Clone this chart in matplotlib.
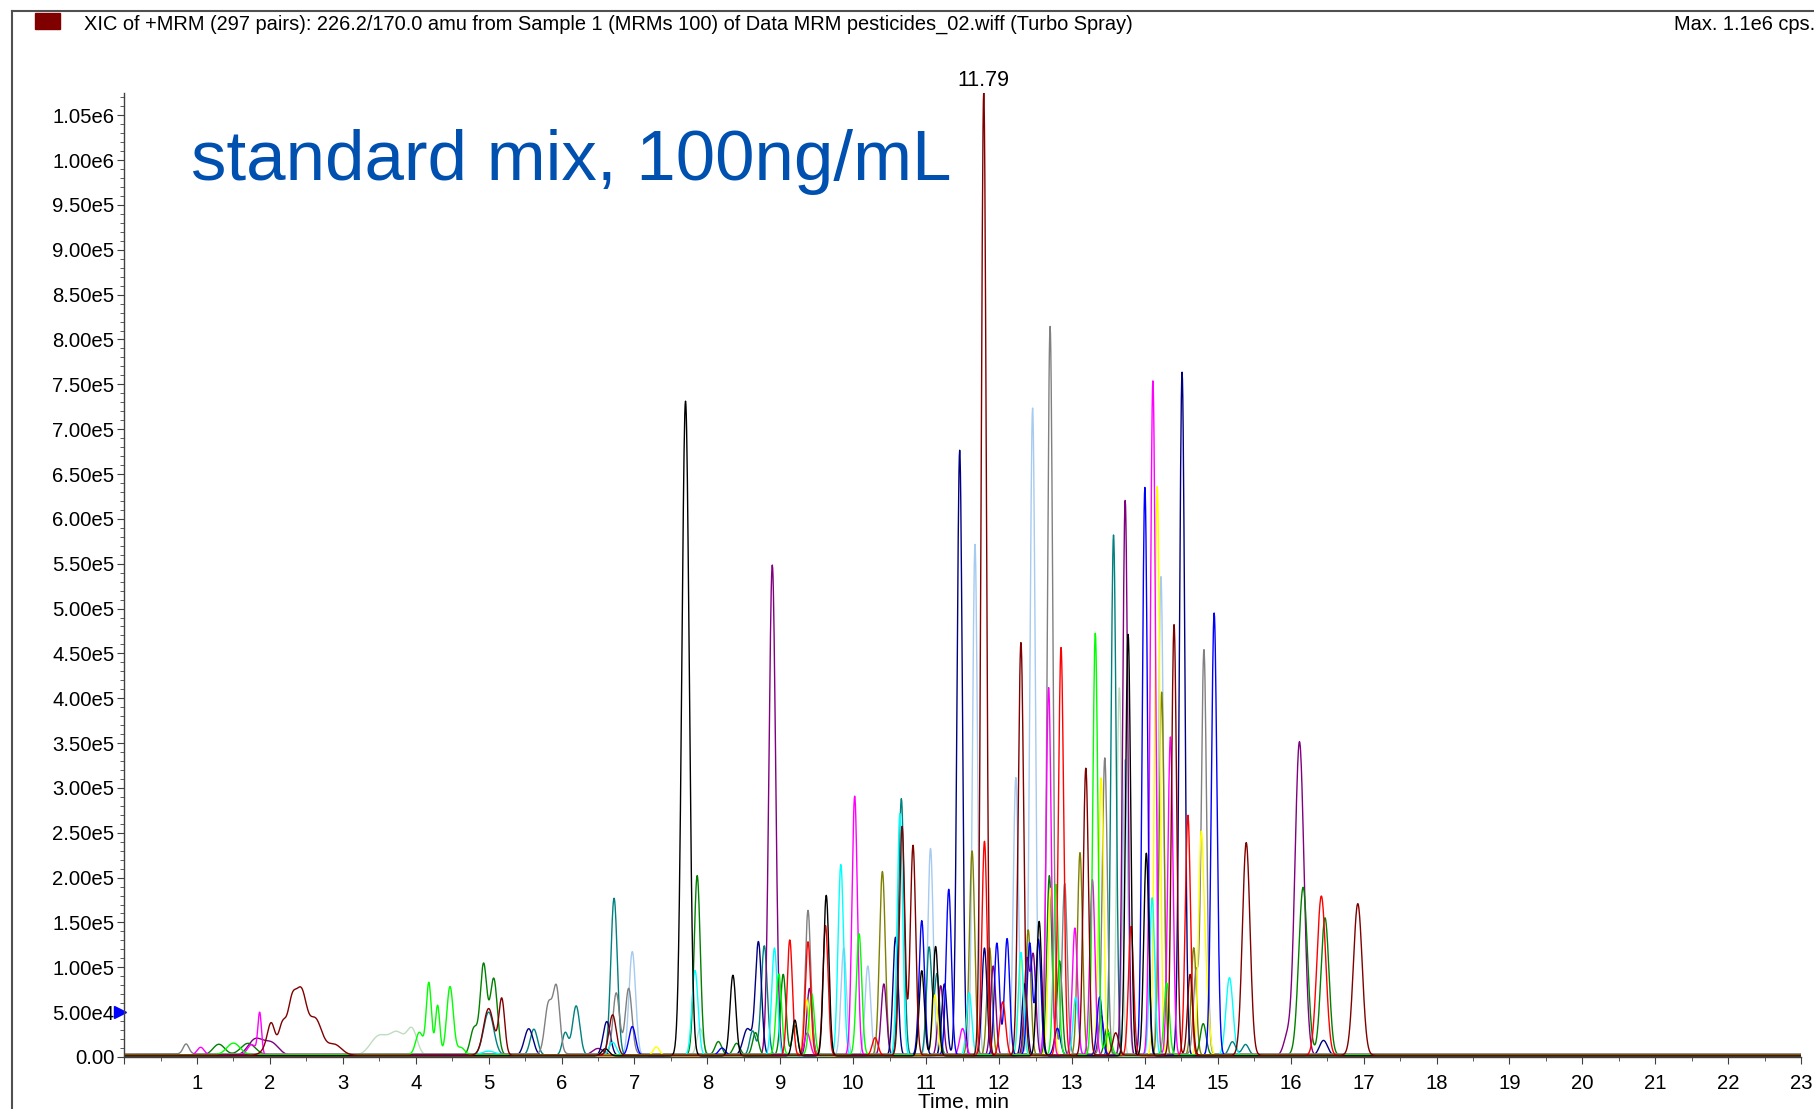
import matplotlib
matplotlib.use('Agg')
import numpy as np
import matplotlib.pyplot as plt
from matplotlib.ticker import MultipleLocator, FuncFormatter
from matplotlib.patches import Rectangle
from matplotlib.lines import Line2D

# peaks per colour: (retention time min, height cps, sigma min)
maroon = [(1.98, 9e3, 0.08), (2.02, 2.8e4, 0.05), (2.17, 3.2e4, 0.05), (2.30, 5.5e4, 0.06),
          (2.43, 6.6e4, 0.07), (2.62, 4.0e4, 0.09), (2.88, 1.2e4, 0.10), (5.00, 5.2e4, 0.07),
          (5.18, 6.2e4, 0.04), (6.70, 4.5e4, 0.05), (10.67, 2.55e5, 0.037), (10.82, 2.34e5, 0.037),
          (11.79, 1.075e6, 0.035), (12.30, 4.6e5, 0.037), (13.19, 3.2e5, 0.036), (13.60, 2.5e4, 0.04),
          (14.40, 4.8e5, 0.035), (14.62, 9e4, 0.035), (15.39, 2.37e5, 0.052), (16.92, 1.69e5, 0.06)]
black = [(6.60, 8e3, 0.05), (7.70, 7.3e5, 0.05), (8.35, 9e4, 0.04), (9.20, 4e4, 0.035),
         (9.63, 1.79e5, 0.037), (10.94, 9.5e4, 0.036), (11.13, 1.22e5, 0.036), (12.55, 1.5e5, 0.035),
         (13.77, 4.7e5, 0.035), (14.02, 2.26e5, 0.035)]
red = [(9.13, 1.29e5, 0.036), (9.38, 1.27e5, 0.036), (9.62, 1.45e5, 0.036), (10.30, 2e4, 0.04),
       (11.80, 2.39e5, 0.035), (12.05, 6e4, 0.04), (12.85, 4.55e5, 0.036), (13.81, 1.44e5, 0.035),
       (14.59, 2.68e5, 0.036), (16.42, 1.78e5, 0.06)]
lime = [(1.50, 1.3e4, 0.09), (4.05, 2.5e4, 0.05), (4.18, 8.0e4, 0.035), (4.30, 5.5e4, 0.03),
        (4.47, 7.6e4, 0.045), (4.62, 8e3, 0.05), (8.98, 9e4, 0.037), (9.43, 6.8e4, 0.037),
        (10.08, 1.35e5, 0.037), (12.78, 1.9e5, 0.035), (13.32, 4.7e5, 0.034), (13.50, 2.5e4, 0.04),
        (14.30, 8e4, 0.035)]
blue = [(6.97, 3.2e4, 0.045), (8.20, 8e3, 0.045), (10.94, 1.5e5, 0.037), (11.31, 1.85e5, 0.036),
        (11.97, 1.25e5, 0.035), (12.11, 1.3e5, 0.035), (12.42, 1.25e5, 0.035), (12.54, 1.29e5, 0.035),
        (12.80, 3e4, 0.04), (13.38, 6.5e4, 0.035), (14.00, 6.33e5, 0.035), (14.95, 4.93e5, 0.038)]
magenta = [(1.05, 9e3, 0.05), (1.75, 1.2e4, 0.06), (1.86, 4.6e4, 0.025), (9.37, 2.5e4, 0.04),
           (10.02, 2.89e5, 0.037), (11.50, 3e4, 0.04), (12.68, 4.1e5, 0.035), (13.04, 1.42e5, 0.035),
           (13.28, 1.96e5, 0.035), (14.11, 7.52e5, 0.036), (14.35, 3.55e5, 0.035)]
cyan = [(5.00, 5e3, 0.10), (6.70, 1.5e4, 0.05), (7.83, 9.5e4, 0.042), (8.92, 1.2e5, 0.038),
        (9.83, 2.13e5, 0.038), (10.64, 2.7e5, 0.037), (11.59, 7e4, 0.036), (12.30, 1.15e5, 0.035),
        (13.05, 6.5e4, 0.035), (14.10, 1.76e5, 0.035), (15.16, 8.7e4, 0.048)]
yellow = [(7.30, 1e4, 0.045), (9.36, 6.3e4, 0.036), (11.12, 6.8e4, 0.036), (12.30, 1.1e5, 0.035),
          (12.71, 1.87e5, 0.035), (13.40, 3.1e5, 0.035), (14.17, 6.35e5, 0.035), (14.77, 2.33e5, 0.036),
          (14.84, 7.5e4, 0.04)]
gray = [(0.85, 1.1e4, 0.04), (5.82, 5.5e4, 0.05), (5.93, 7.2e4, 0.045), (6.75, 6.8e4, 0.045),
        (6.92, 7.3e4, 0.045), (9.38, 1.6e5, 0.037), (12.70, 8.11e5, 0.037), (12.90, 1.9e5, 0.035),
        (13.45, 3.3e5, 0.035), (14.70, 9e4, 0.035), (14.81, 4.5e5, 0.036)]
navy = [(5.55, 3e4, 0.06), (6.62, 3.8e4, 0.05), (8.55, 3e4, 0.06), (8.70, 1.26e5, 0.042),
        (10.58, 1.32e5, 0.036), (11.25, 8e4, 0.036), (11.46, 6.75e5, 0.036), (11.80, 1.2e5, 0.035),
        (12.35, 8e4, 0.035), (14.51, 7.62e5, 0.036), (16.45, 1.7e4, 0.055)]
green = [(1.30, 1.2e4, 0.08), (1.70, 1.3e4, 0.10), (4.80, 3e4, 0.05), (4.93, 1.0e5, 0.045),
         (5.07, 8.5e4, 0.05), (7.86, 2.0e5, 0.042), (8.15, 1.5e4, 0.045), (8.40, 1.3e4, 0.045),
         (8.66, 2.5e4, 0.04), (9.04, 9e4, 0.037), (9.20, 3.3e4, 0.036), (12.69, 2.0e5, 0.035),
         (12.83, 1.05e5, 0.035), (13.48, 3e4, 0.035), (14.80, 3.5e4, 0.04), (16.17, 1.87e5, 0.06),
         (16.47, 1.53e5, 0.055)]
purple = [(1.80, 1.8e4, 0.10), (2.02, 1.4e4, 0.10), (6.50, 8e3, 0.08), (8.89, 5.47e5, 0.045),
          (9.40, 7.5e4, 0.037), (10.42, 8e4, 0.037), (11.20, 7.8e4, 0.036), (11.92, 1e5, 0.035),
          (12.38, 1.05e5, 0.035), (12.47, 1.1e5, 0.035), (13.40, 4.5e4, 0.035), (13.73, 6.19e5, 0.035),
          (15.95, 2e4, 0.05), (16.12, 3.5e5, 0.062)]
teal = [(5.00, 4.8e4, 0.07), (5.62, 2.9e4, 0.05), (6.05, 2.5e4, 0.04), (6.20, 5.5e4, 0.05),
        (6.72, 1.75e5, 0.045), (8.62, 2.7e4, 0.04), (8.78, 1.22e5, 0.042), (10.66, 2.86e5, 0.037),
        (11.04, 1.2e5, 0.036), (11.15, 9e4, 0.036), (13.57, 5.8e5, 0.035), (15.20, 1.5e4, 0.045),
        (15.38, 1.2e4, 0.045)]
olive = [(10.40, 2.05e5, 0.04), (11.63, 2.28e5, 0.036), (11.87, 1.2e5, 0.035), (12.40, 1.4e5, 0.035),
         (13.11, 2.26e5, 0.035), (14.23, 4.05e5, 0.035), (14.67, 1.2e5, 0.035)]
ltblue = [(6.97, 1.16e5, 0.045), (9.87, 1.2e5, 0.038), (10.20, 1e5, 0.038), (11.06, 2.31e5, 0.037),
          (11.67, 5.7e5, 0.034), (12.23, 3.1e5, 0.035), (12.46, 7.22e5, 0.036), (13.73, 3.3e5, 0.035),
          (14.22, 5.34e5, 0.035)]
ltgreen = [(3.50, 2.2e4, 0.12), (3.75, 2.4e4, 0.10), (3.95, 2.8e4, 0.07), (7.90, 3e4, 0.045),
           (13.65, 4.1e5, 0.035)]

# baseline level of each trace (cps)
baselines = {'ltgreen': 1500, 'ltblue': 1500, 'olive': 1800, 'teal': 2000, 'purple': 1500,
             'green': 2200, 'navy': 1500, 'gray': 3500, 'yellow': 1200, 'cyan': 1500,
             'magenta': 1800, 'blue': 2000, 'lime': 2500, 'red': 1500, 'black': 1200,
             'maroon': 2000}

traces = [('ltgreen', ltgreen, '#C0DCC0'), ('ltblue', ltblue, '#A6CAF0'), ('olive', olive, '#808000'),
          ('teal', teal, '#008080'), ('purple', purple, '#800080'), ('green', green, '#008000'),
          ('navy', navy, '#000080'), ('gray', gray, '#808080'), ('yellow', yellow, '#FFFF00'),
          ('cyan', cyan, '#00FFFF'), ('magenta', magenta, '#FF00FF'), ('blue', blue, '#0000FF'),
          ('lime', lime, '#00FF00'), ('red', red, '#FF0000'), ('black', black, '#000000'),
          ('maroon', maroon, '#800000')]

plt.rcParams['font.family'] = ['Liberation Sans', 'DejaVu Sans']

fig = plt.figure(figsize=(18.14, 11.09), dpi=100)
ax = fig.add_axes([0.0684, 0.0469, 0.9245, 0.8694])

t = np.arange(0, 23.0001, 0.005)
for name, peaks, col in traces:
    y = np.full_like(t, baselines[name], dtype=float)
    for rt, h, s in peaks:
        y += h * np.exp(-0.5 * ((t - rt) / s) ** 2)
    ax.plot(t, y, color=col, lw=1.0)

ax.set_xlim(0, 23)
ax.set_ylim(0, 1.075e6)
for sp in ['top', 'right']:
    ax.spines[sp].set_visible(False)
for sp in ['left', 'bottom']:
    ax.spines[sp].set_color('#404040')
    ax.spines[sp].set_linewidth(1.0)

ax.xaxis.set_major_locator(MultipleLocator(1))
ax.xaxis.set_minor_locator(MultipleLocator(0.5))
ax.yaxis.set_major_locator(MultipleLocator(5e4))
ax.yaxis.set_minor_locator(MultipleLocator(1e4))


def xfmt(v, pos):
    return '' if v < 0.5 else '%d' % round(v)


def yfmt(v, pos):
    if v == 0:
        return '0.00'
    m, e = ('%.2e' % v).split('e')
    return '%se%d' % (m, int(e))


ax.xaxis.set_major_formatter(FuncFormatter(xfmt))
ax.yaxis.set_major_formatter(FuncFormatter(yfmt))
ax.tick_params(axis='both', which='major', labelsize=14.6, color='#404040', length=5)
ax.tick_params(axis='both', which='minor', color='#404040', length=3)
ax.tick_params(axis='x', pad=7)
ax.tick_params(axis='y', pad=2)

# apex label and marker
ax.annotate('11.79', (11.79, 1.075e6), xytext=(0, 1), textcoords='offset points',
            ha='center', va='bottom', fontsize=15.5, annotation_clip=False)
ax.plot([-0.05], [5e4], marker='>', color='#0000FF', markersize=9, clip_on=False)

fig.text(0.531, 1 - 1093 / 1109, 'Time, min', ha='center', va='top', fontsize=15)
fig.text(191 / 1814, 1 - 180 / 1109, 'standard mix, 100ng/mL', color='#0050B0',
         fontsize=51, va='baseline', ha='left')
fig.text(84 / 1814, 1 - 24 / 1109,
         'XIC of +MRM (297 pairs): 226.2/170.0 amu from Sample 1 (MRMs 100) of Data MRM pesticides_02.wiff (Turbo Spray)',
         ha='left', va='center', fontsize=14.4)
fig.text(1674 / 1814, 1 - 24 / 1109, 'Max. 1.1e6 cps.', ha='left', va='center', fontsize=14.4)

# legend square and frame
fig.add_artist(Rectangle((35 / 1814, 1 - 29 / 1109), 25 / 1814, 16 / 1109,
                         transform=fig.transFigure, color='#800000'))
fig.add_artist(Line2D([12 / 1814, 1], [1 - 11 / 1109, 1 - 11 / 1109], transform=fig.transFigure,
                      color='#505050', lw=1.5))
fig.add_artist(Line2D([12 / 1814, 12 / 1814], [0, 1 - 11 / 1109], transform=fig.transFigure,
                      color='#505050', lw=1.5))

fig.savefig('out.png', dpi=100)
